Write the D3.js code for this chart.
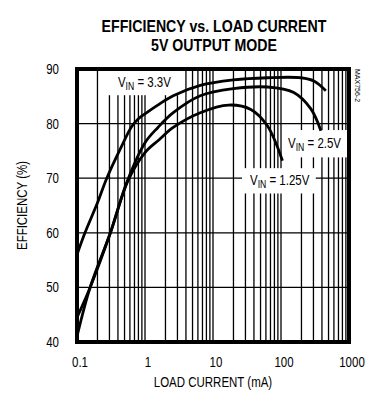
<!DOCTYPE html>
<html>
<head>
<meta charset="utf-8">
<script src="https://cdn.jsdelivr.net/npm/d3@7"></script>
<style>
  body { margin: 0; background: #fff; }
  text { font-family: "Liberation Sans", Arial, sans-serif; fill: #000; }
</style>
</head>
<body>
<script>
// chart data
var xTicks = [0.1, 1, 10, 100, 1000];
var yTicks = [40, 50, 60, 70, 80, 90];

var current33 = [0.1, 0.131, 0.2, 0.274, 0.45, 0.641, 0.8, 1, 1.5, 2.6, 6.5, 20, 63, 196, 305, 457];
var eff33     = [56, 60, 65.5, 70, 75.8, 79.5, 80.9, 81.8, 83.3, 85.1, 87, 88, 88.4, 88.4, 87.8, 86];

var current25 = [0.1, 0.156, 0.3, 0.55, 1, 1.55, 2.6, 6.5, 20, 63, 154, 275, 386];
var eff25     = [44.5, 50, 59.5, 69.5, 76.5, 79.3, 82, 85.1, 86.4, 86.7, 85.7, 82.7, 78.7];

var current125 = [0.1, 0.156, 0.31, 0.56, 1, 1.6, 2.6, 6.5, 17, 36, 63, 105];
var eff125     = [41, 50, 60, 69.5, 74.7, 77, 79.3, 82, 83.4, 82.6, 79.6, 73.2];

var seriesNames = ["3.3V", "2.5V", "1.25V"];

var SQ = 0.82; // horizontal squeeze to mimic a condensed face

// text drawn with a condensed look: translate, then squeeze horizontally
function narrowText(parent, x, y, size, str, anchor, weight) {
    var g = parent.append("g")
        .attr("transform", "translate(" + x + "," + y + ") scale(" + SQ + ",1)");
    var t = g.append("text")
        .attr("font-size", size)
        .attr("text-anchor", anchor || "start")
        .text(str);
    if (weight) t.attr("font-weight", weight);
    return g;
}

function main() {
    var W = 385, H = 403;
    var margin = {top: 69, right: 36, bottom: 61, left: 77},
        width = W - margin.left - margin.right,
        height = H - margin.top - margin.bottom;

    var xScale = d3.scaleLog().domain([0.1, 1000]).range([0, width]);
    var yScale = d3.scaleLinear().domain([40, 90]).range([height, 0]);

    var svg = d3.select("body").append("svg")
        .attr("width", W)
        .attr("height", H);

    // title
    narrowText(svg, 214, 32, 17.3, "EFFICIENCY vs. LOAD CURRENT", "middle", "bold");
    narrowText(svg, 214, 50.5, 17.3, "5V OUTPUT MODE", "middle", "bold");

    var g = svg.append("g")
        .attr("transform", "translate(" + margin.left + "," + margin.top + ")");

    // vertical grid: every 1..9 in each decade
    var minor = [];
    for (var d = 0.1; d < 1000; d *= 10) {
        for (var k = 2; k <= 9; k++) minor.push(d * k);
    }
    minor = minor.concat(xTicks.slice(1, -1));
    g.selectAll(".vgrid").data(minor).enter().append("line")
        .attr("class", "vgrid")
        .attr("x1", function(v) { return xScale(v); })
        .attr("x2", function(v) { return xScale(v); })
        .attr("y1", 0).attr("y2", height)
        .attr("stroke", "#000").attr("stroke-width", 1.3);

    g.selectAll(".hgrid").data(yTicks.slice(1, -1)).enter().append("line")
        .attr("class", "hgrid")
        .attr("x1", 0).attr("x2", width)
        .attr("y1", function(v) { return yScale(v); })
        .attr("y2", function(v) { return yScale(v); })
        .attr("stroke", "#000").attr("stroke-width", 1.3);

    // curve labels with white boxes behind
    var labels = [
        {name: seriesNames[0], x: 0.4, y: 86.7, padL: 15, padR: 9, padT: 10, padB: 3},
        {name: seriesNames[1], x: 127, y: 75.5, padL: 6, padR: 6, padT: 5, padB: 4},
        {name: seriesNames[2], x: 35, y: 68.7, padL: 8, padR: 6, padT: 4, padB: 3}
    ];
    labels.forEach(function(l) {
        var px = xScale(l.x), py = yScale(l.y);
        var lg = g.append("g")
            .attr("transform", "translate(" + px + "," + py + ") scale(" + SQ + ",1)");
        var box = lg.append("rect").attr("fill", "#fff");
        var t = lg.append("text").attr("font-size", 14);
        t.append("tspan").text("V");
        t.append("tspan").attr("font-size", 10.5).attr("dy", 3).text("IN");
        t.append("tspan").attr("dy", -3).text(" = " + l.name);
        var bb = t.node().getBBox();
        var top = Math.max(-py, bb.y - l.padT);
        box.attr("x", bb.x - l.padL / SQ).attr("y", top)
            .attr("width", bb.width + (l.padL + l.padR) / SQ)
            .attr("height", bb.y + bb.height + l.padB - top);
    });

    // curves
    var line = d3.line()
        .x(function(d) { return xScale(d[0]); })
        .y(function(d) { return yScale(d[1]); })
        .curve(d3.curveCatmullRom.alpha(0.5));

    var series = [
        d3.zip(current33, eff33),
        d3.zip(current25, eff25),
        d3.zip(current125, eff125)
    ];
    g.selectAll(".curve").data(series).enter().append("path")
        .attr("class", "curve")
        .attr("d", line)
        .attr("fill", "none")
        .attr("stroke", "#000")
        .attr("stroke-width", 2.8);

    // frame
    g.append("rect")
        .attr("x", 0).attr("y", 0)
        .attr("width", width).attr("height", height)
        .attr("fill", "none").attr("stroke", "#000").attr("stroke-width", 4);

    // tick labels
    xTicks.forEach(function(v) {
        narrowText(g, xScale(v) + 3, height + 25, 14, String(v), "middle");
    });
    yTicks.forEach(function(v) {
        narrowText(g, -18, yScale(v) + 5, 14, String(v), "end");
    });

    // axis titles
    narrowText(svg, 213, 387, 14, "LOAD CURRENT (mA)", "middle");
    svg.append("g")
        .attr("transform", "translate(27," + (margin.top + height / 2) + ") rotate(-90) scale(" + SQ + ",1)")
        .append("text")
        .attr("text-anchor", "middle").attr("font-size", 14)
        .text("EFFICIENCY (%)");

    // figure id
    svg.append("text")
        .attr("transform", "translate(355,69) rotate(90)")
        .attr("font-size", 7)
        .text("MAX756-2");
}
main();
</script>
</body>
</html>
